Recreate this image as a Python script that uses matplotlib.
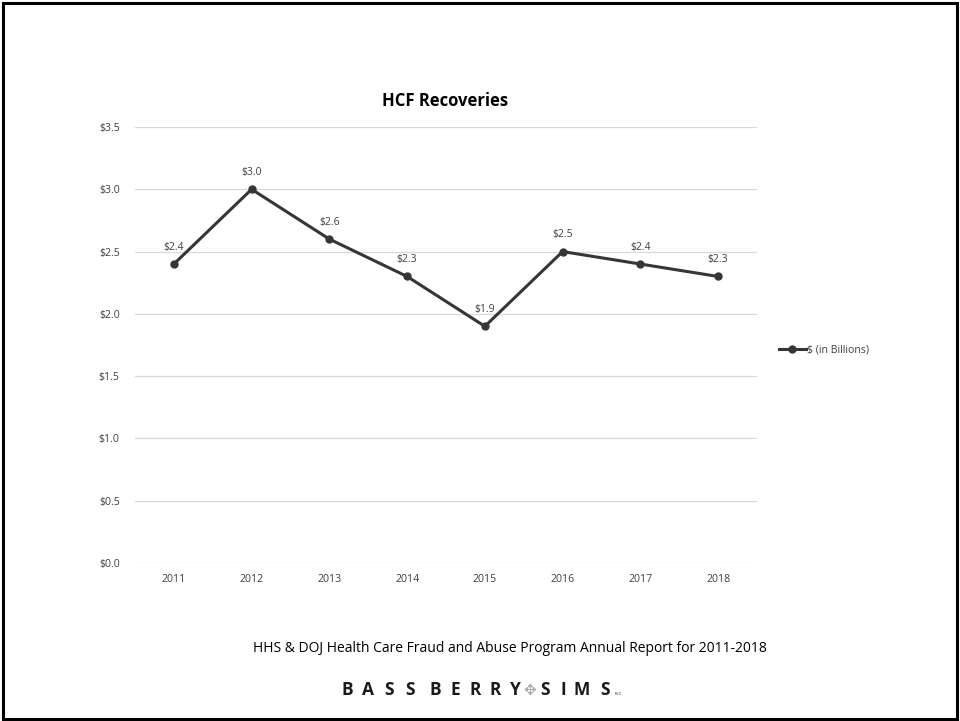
import matplotlib.pyplot as plt
from matplotlib.patches import Rectangle

years = ['2011', '2012', '2013', '2014', '2015', '2016', '2017', '2018']
recoveries = [2.4, 3.0, 2.6, 2.3, 1.9, 2.5, 2.4, 2.3]
yticks = [0.0, 0.5, 1.0, 1.5, 2.0, 2.5, 3.0, 3.5]

plt.rcParams['font.family'] = ['Open Sans', 'DejaVu Sans']

W, H = 960, 721
fig = plt.figure(figsize=(W / 100, H / 100), dpi=100)
ax = fig.add_axes([135 / W, 1 - 563 / H, (757 - 135) / W, (563 - 127) / H])

xs = list(range(len(years)))
ax.plot(xs, recoveries, color='#363636', linewidth=2.2, marker='o',
        markersize=5, label='$ (in Billions)')

for x, v in zip(xs, recoveries):
    ax.annotate('$%.1f' % v, (x, v), xytext=(0, 8), textcoords='offset points',
                ha='center', va='bottom', fontsize=7.5, color='#404040')

ax.set_xlim(-0.5, len(years) - 0.5)
ax.set_ylim(0, 3.5)
ax.set_xticks(xs)
ax.set_xticklabels(years)
ax.set_yticks(yticks)
ax.set_yticklabels(['$%.1f' % t for t in yticks])
ax.tick_params(axis='both', length=0, labelsize=7.6, labelcolor='#404040')
ax.tick_params(axis='x', pad=8)
ax.tick_params(axis='y', pad=11)
ax.grid(axis='y', color='#d9d9d9', linewidth=0.9)
ax.set_axisbelow(True)
for s in ax.spines.values():
    s.set_visible(False)

fig.text(445 / W, 1 - 101 / H, 'HCF Recoveries', ha='center', va='center',
         fontsize=12, fontweight='bold', color='black')

fig.legend(loc='center left', bbox_to_anchor=(769 / W, 1 - 350 / H),
           frameon=False, fontsize=7.6, handlelength=2.6, handletextpad=0.1,
           labelcolor='#404040')

fig.text(510 / W, 1 - 649 / H,
         'HHS & DOJ Health Care Fraud and Abuse Program Annual Report for 2011-2018',
         ha='center', va='center', fontsize=10, color='black')

# firm logo, letters spread out one by one
logo_y = 1 - 690 / H
letters = [('B', 347), ('A', 368), ('S', 389), ('S', 410),
           ('B', 435), ('E', 455), ('R', 475), ('R', 495), ('Y', 515),
           ('S', 545), ('I', 563), ('M', 582), ('S', 605)]
for ch, px in letters:
    fig.text(px / W, logo_y, ch, ha='center', va='center', fontsize=12.5,
             fontweight='bold', color='#1a1a1a')
fig.text(530 / W, logo_y, '✥', ha='center', va='center',
         fontsize=11, color='#a8a8a8', family=['DejaVu Sans'])
fig.text(615 / W, 1 - 694 / H, 'PLC', ha='left', va='center',
         fontsize=3, color='#1a1a1a')

fig.patches.append(Rectangle((3 / W, 2 / H), 954 / W, 716 / H,
                             transform=fig.transFigure, fill=False,
                             edgecolor='black', linewidth=2.2))

fig.savefig('out.png', dpi=100)
